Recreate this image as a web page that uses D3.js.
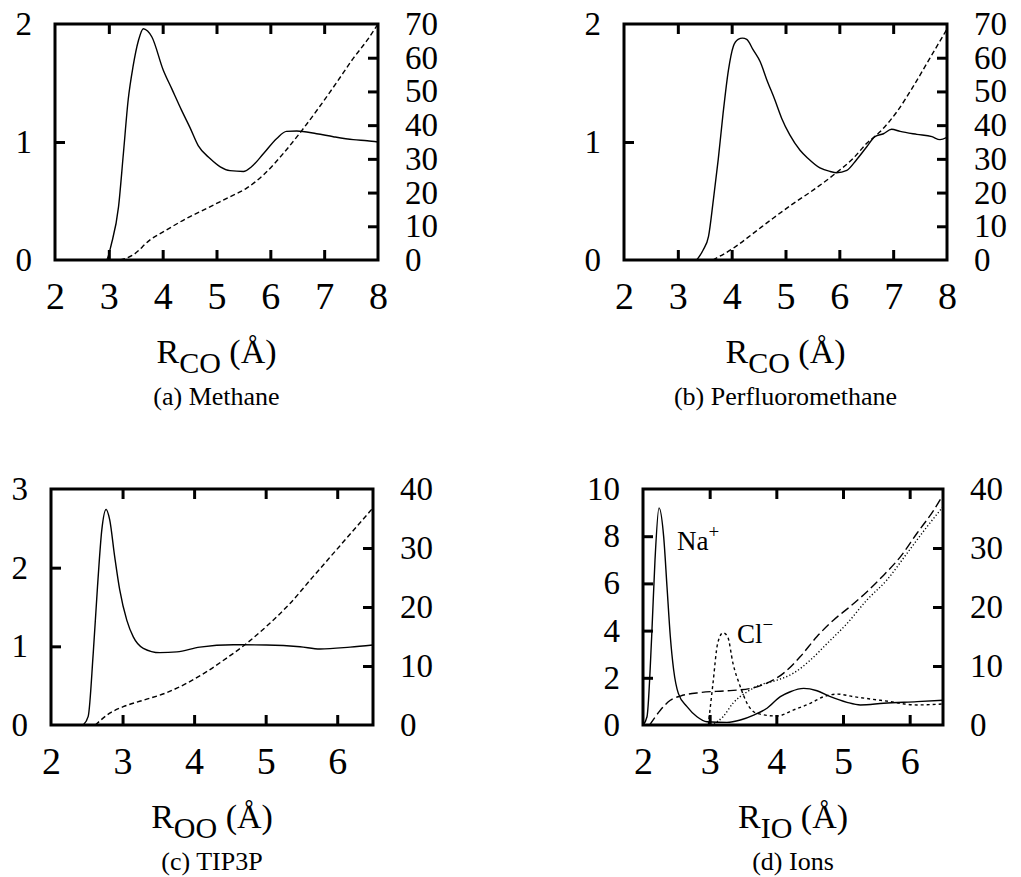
<!DOCTYPE html>
<html><head><meta charset="utf-8">
<script src="https://cdn.jsdelivr.net/npm/d3@7"></script>
<style>
body{margin:0;background:#fff;}
svg text{font-family:'Liberation Serif','Times New Roman',Times,serif !important;fill:#000;}
</style></head>
<body><svg id="c" width="1021" height="877"></svg>
<script>
// ---------- data ----------
// (a) Methane
const methaneGR = [2.9,2.95,3.05,3.18,3.27,3.36,3.45,3.55,3.64,3.72,3.80,4.01,4.17,4.35,4.51,4.66,4.88,5.07,5.25,5.50,5.65,5.87,6.12,6.30,6.49,6.86,7.17,7.54,7.8,8.0];
const methaneG  = [0,0,0.14,0.45,0.90,1.36,1.64,1.86,1.96,1.94,1.89,1.61,1.45,1.27,1.12,0.97,0.86,0.79,0.757,0.75,0.79,0.90,1.03,1.09,1.093,1.07,1.045,1.02,1.01,1.0];
const methaneNR = [3.21,3.45,3.76,4.07,4.45,4.82,5.19,5.56,5.87,6.24,6.58,6.92,7.23,7.54,7.8,8.0];
const methaneN  = [0,1.5,5.9,8.9,12.4,15.3,18.3,21.3,25.2,31.6,38.3,45.6,52.6,59.8,65.2,70];
// (b) Perfluoromethane
const pfmGR = [3.35,3.47,3.57,3.66,3.75,3.84,3.94,4.03,4.12,4.2,4.28,4.40,4.53,4.65,4.80,4.93,5.08,5.27,5.42,5.64,5.83,5.95,6.14,6.32,6.51,6.66,6.82,6.97,7.13,7.44,7.72,7.87,8.0];
const pfmG  = [0,0.085,0.20,0.51,0.85,1.24,1.61,1.81,1.87,1.88,1.87,1.78,1.68,1.53,1.36,1.20,1.06,0.93,0.86,0.78,0.75,0.74,0.76,0.85,0.96,1.045,1.07,1.108,1.09,1.065,1.045,1.02,1.04];
const pfmNR = [3.65,4.03,4.40,4.77,5.15,5.52,5.89,6.26,6.51,6.76,7.07,7.37,7.68,8.0];
const pfmN  = [0,3.5,7.9,12.4,16.8,20.8,25.2,30.2,34.6,38.1,44.0,51.4,59.8,68.5];
// (c) TIP3P
const tipGR = [2.45,2.52,2.59,2.65,2.71,2.77,2.82,2.89,2.96,3.06,3.15,3.29,3.52,3.76,4.08,4.55,5.01,5.48,5.76,6.18,6.5];
const tipG  = [0,0.11,0.91,1.76,2.48,2.74,2.61,2.14,1.72,1.33,1.12,0.975,0.92,0.93,0.99,1.02,1.017,0.995,0.966,0.99,1.017];
const tipNR = [2.62,2.82,3.01,3.29,3.62,3.90,4.17,4.45,4.71,5.01,5.34,5.66,5.99,6.27,6.5];
const tipN  = [0,2.0,3.1,4.2,5.5,7.1,9.0,11.3,13.6,16.7,20.6,25.1,29.7,33.6,36.8];
// (d) Ions
const naGR = [2.0,2.06,2.13,2.18,2.24,2.31,2.36,2.41,2.46,2.53,2.66,2.81,2.96,3.26,3.46,3.66,3.86,4.06,4.21,4.41,4.61,4.81,5.06,5.26,5.61,6.11,6.5];
const naG  = [0,0.35,3.74,6.99,9.2,7.98,5.86,3.74,2.33,1.34,0.78,0.35,0.14,0.11,0.21,0.42,0.71,1.2,1.41,1.55,1.45,1.2,0.96,0.85,0.92,0.99,1.05];
const clGR = [2.98,3.05,3.12,3.20,3.27,3.35,3.46,3.56,3.71,4.01,4.26,4.51,4.71,4.91,5.16,5.61,6.11,6.5];
const clG  = [0,1.77,3.46,3.91,3.74,2.61,1.62,0.92,0.49,0.38,0.64,0.92,1.2,1.31,1.2,1.03,0.85,0.89];
const naNR = [2.1,2.26,2.41,2.56,2.86,3.26,3.61,3.86,4.11,4.36,4.61,4.86,5.11,5.36,5.61,5.86,6.11,6.36,6.5];
const naN  = [0,2.5,4.2,4.9,5.5,5.8,6.2,7.1,8.8,11.6,15.0,17.8,20.1,22.6,25.4,28.5,32.5,36.4,39.0];
const clNR = [3.02,3.20,3.35,3.56,3.76,4.01,4.26,4.51,4.76,5.06,5.36,5.66,5.96,6.26,6.5];
const clN  = [0,1.4,3.7,5.6,6.8,7.6,8.8,11.0,13.8,17.2,21.2,24.6,29.1,33.6,37.0];

// tick labels
const xTicksAB = [2,3,4,5,6,7,8];
const yTicksAB = [0,1,2];
const y2TicksAB = [0,10,20,30,40,50,60,70];
const xTicksCD = [2,3,4,5,6];
const yTicksC = [0,1,2,3];
const yTicksD = [0,2,4,6,8,10];
const y2TicksCD = [0,10,20,30,40];

const FONT = "'Liberation Serif','Times New Roman',Times,serif";
const svg = d3.select("#c");
const zip = (a,b)=>a.map((v,i)=>[v,b[i]]);

function panel(o){
  const g = svg.append("g");
  const x = d3.scaleLinear().domain(o.xd).range([o.x0,o.x1]);
  const y = d3.scaleLinear().domain(o.yd).range([o.y1,o.y0]);
  const y2 = d3.scaleLinear().domain(o.y2d).range([o.y1,o.y0]);
  const id = "clip"+o.id;
  svg.append("clipPath").attr("id",id).append("rect")
    .attr("x",o.x0).attr("y",o.y0-2).attr("width",o.x1-o.x0).attr("height",o.y1-o.y0+2);

  function styleAxis(sel, ends, fs){
    sel.attr("font-family",FONT).style("font-family",FONT);
    sel.select(".domain").remove();
    sel.selectAll(".tick line").attr("stroke","#000").attr("stroke-width",3)
      .filter(d=>ends.includes(d)).remove();
    sel.selectAll(".tick text").attr("font-size",fs).style("font-family",FONT).attr("fill","#000");
  }
  const xe=o.xd, ye=o.yd, y2e=o.y2d;
  g.append("g").attr("transform",`translate(0,${o.y1})`)
    .call(d3.axisBottom(x).tickValues(o.xt).tickSize(-10).tickPadding(22).tickFormat(d3.format("d")))
    .call(s=>styleAxis(s,xe,38));
  g.append("g").attr("transform",`translate(0,${o.y0})`)
    .call(d3.axisTop(x).tickValues(o.xt).tickSize(-10).tickFormat(""))
    .call(s=>styleAxis(s,xe,0));
  g.append("g").attr("transform",`translate(${o.x0},0)`)
    .call(d3.axisLeft(y).tickValues(o.yt).tickSize(-10).tickPadding(23).tickFormat(d3.format("d")))
    .call(s=>styleAxis(s,ye,33));
  g.append("g").attr("transform",`translate(${o.x1},0)`)
    .call(d3.axisRight(y2).tickValues(o.y2t).tickSize(-10).tickPadding(27).tickFormat(d3.format("d")))
    .call(s=>{styleAxis(s,y2e,33); s.selectAll(".tick text").attr("text-anchor","start");});

  const lines = g.append("g").attr("clip-path",`url(#${id})`);
  o.series.forEach(s=>{
    const sc = s.axis===2 ? y2 : y;
    lines.append("path").datum(zip(s.r,s.v))
      .attr("fill","none").attr("stroke","#000").attr("stroke-width",1.4)
      .attr("stroke-dasharray",s.dash||null)
      .attr("d",d3.line().x(d=>x(d[0])).y(d=>sc(d[1])).curve(d3.curveMonotoneX));
  });

  g.append("rect").attr("x",o.x0).attr("y",o.y0).attr("width",o.x1-o.x0).attr("height",o.y1-o.y0)
    .attr("fill","none").attr("stroke","#000").attr("stroke-width",3);

  const cx=(o.x0+o.x1)/2;
  const t = g.append("text").attr("x",cx).attr("y",o.y1+103).attr("text-anchor","middle").attr("font-size",34).style("font-family",FONT);
  t.append("tspan").text("R");
  t.append("tspan").attr("dy",10).attr("font-size",30).text(o.sub);
  t.append("tspan").attr("dy",-10).text(" (Å)");
  g.append("text").attr("x",cx).attr("y",o.y1+145).attr("text-anchor","middle").attr("font-size",26).style("font-family",FONT).text(o.cap);
  return {x,y,y2};
}

panel({id:"a",x0:55,x1:378,y0:24,y1:260,xd:[2,8],yd:[0,2],y2d:[0,70],xt:xTicksAB,yt:yTicksAB,y2t:y2TicksAB,
  sub:"CO",cap:"(a) Methane",
  series:[{r:methaneGR,v:methaneG},{r:methaneNR,v:methaneN,axis:2,dash:"5,3"}]});
panel({id:"b",x0:624,x1:947,y0:24,y1:260,xd:[2,8],yd:[0,2],y2d:[0,70],xt:xTicksAB,yt:yTicksAB,y2t:y2TicksAB,
  sub:"CO",cap:"(b) Perfluoromethane",
  series:[{r:pfmGR,v:pfmG},{r:pfmNR,v:pfmN,axis:2,dash:"5,3"}]});
panel({id:"c",x0:51,x1:373,y0:489,y1:725,xd:[2,6.5],yd:[0,3],y2d:[0,40],xt:xTicksCD,yt:yTicksC,y2t:y2TicksCD,
  sub:"OO",cap:"(c) TIP3P",
  series:[{r:tipGR,v:tipG},{r:tipNR,v:tipN,axis:2,dash:"5,3"}]});
const pd = panel({id:"d",x0:643,x1:943,y0:489,y1:725,xd:[2,6.5],yd:[0,10],y2d:[0,40],xt:xTicksCD,yt:yTicksD,y2t:y2TicksCD,
  sub:"IO",cap:"(d) Ions",
  series:[{r:naGR,v:naG},{r:clGR,v:clG,dash:"3,3"},{r:naNR,v:naN,axis:2,dash:"9,4"},{r:clNR,v:clN,axis:2,dash:"1.2,2.2"}]});

// series labels
const na = svg.append("text").attr("x",pd.x(2.51)).attr("y",pd.y(7.4)).attr("font-size",27).style("font-family",FONT);
na.append("tspan").text("Na");
na.append("tspan").attr("dy",-12).attr("font-size",19).text("+");
const cl = svg.append("text").attr("x",pd.x(3.41)).attr("y",pd.y(3.47)).attr("font-size",27).style("font-family",FONT);
cl.append("tspan").text("Cl");
cl.append("tspan").attr("dy",-12).attr("font-size",19).text("−");
</script></body></html>
